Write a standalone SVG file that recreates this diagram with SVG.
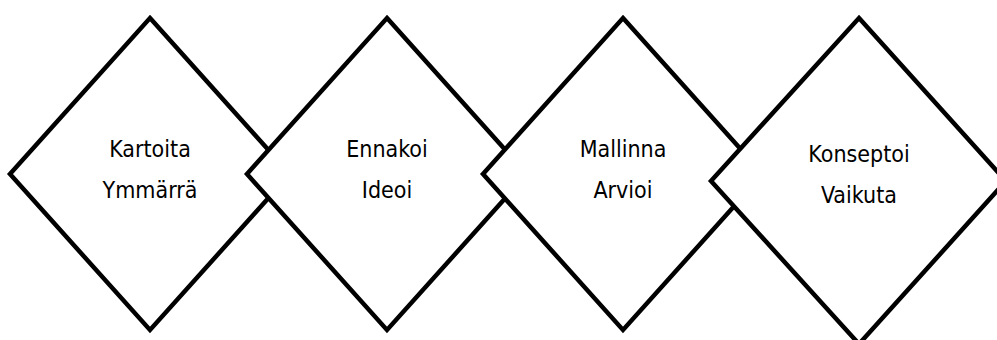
<svg xmlns="http://www.w3.org/2000/svg" width="997" height="340" viewBox="0 0 997 340">
<style>
.d{fill:#fff;stroke:#000;stroke-width:4.5;stroke-linejoin:miter}
.t{font-family:"DejaVu Sans Condensed","DejaVu Sans","Liberation Sans",sans-serif;font-size:23px;fill:#000;text-anchor:middle}
</style>
<rect width="997" height="340" fill="#fff"/>
<g id="connectors"></g>
<g id="n1">
<polygon class="d" points="150,18 290,174 150,330 10,174"/>
<text class="t" x="150" y="157">Kartoita</text>
<text class="t" x="150" y="198">Ymmärrä</text>
</g>
<g id="n2">
<polygon class="d" points="387,18 527,174 387,330 247,174"/>
<text class="t" x="387" y="157">Ennakoi</text>
<text class="t" x="387" y="198">Ideoi</text>
</g>
<g id="n3">
<polygon class="d" points="623,18 763,174 623,330 483,174"/>
<text class="t" x="623" y="157">Mallinna</text>
<text class="t" x="623" y="198">Arvioi</text>
</g>
<g id="n4">
<polygon class="d" points="859,18 1006,181 859,344 711,181"/>
<text class="t" x="859" y="162">Konseptoi</text>
<text class="t" x="859" y="203">Vaikuta</text>
</g>
</svg>
